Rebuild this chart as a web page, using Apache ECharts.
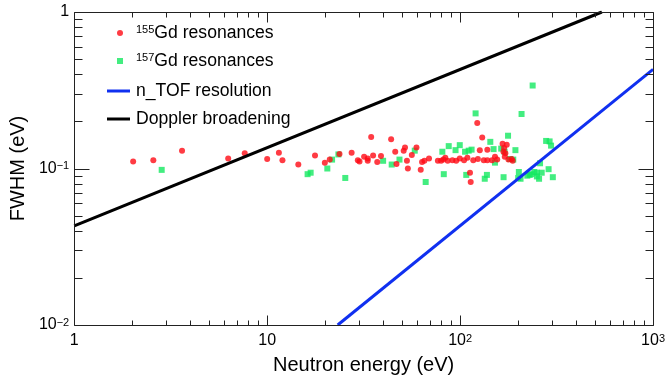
<!DOCTYPE html>
<html>
<head>
<meta charset="utf-8">
<script src="https://cdn.jsdelivr.net/npm/echarts@6/dist/echarts.min.js"></script>
<style>
  html, body { margin: 0; padding: 0; background: #fff; }
  #chart { width: 668px; height: 380px; }
</style>
</head>
<body>
<div id="chart"></div>
<script>
// 155Gd resonances: neutron energy (eV) and FWHM (eV)
const gd155E = [2.02, 2.57, 3.62, 6.28, 7.65, 10.0, 11.5, 12.0, 14.5, 17.7, 19.9, 21.1, 23.7, 27.4, 29.5, 30.1, 31.8, 33.2, 33.2, 34.6,
  35.4, 37.2, 38.9, 43.9, 46.1, 46.8, 51.0, 51.8, 53.0, 53.6, 56.2, 59.4, 62.5, 63.5, 65.3, 69.0, 76.7, 79.7, 81.9, 83.8,
  86.2, 91.2, 95.4, 99.6, 104.8, 109.1, 112.5, 113.5, 117.0, 122.7, 123.6, 126.5, 130.2, 132.6, 138.4, 138.4, 146.3, 151.6, 155.7, 166,
  169.1, 171.6, 174.5, 178, 185.1, 187.3, 167.7, 170.4];
const gd155W = [0.111, 0.113, 0.130, 0.116, 0.125, 0.115, 0.126, 0.113, 0.106, 0.121, 0.109, 0.114, 0.124, 0.126, 0.113, 0.111, 0.119, 0.116, 0.112, 0.159,
  0.121, 0.110, 0.120, 0.154, 0.128, 0.107, 0.130, 0.136, 0.112, 0.100, 0.122, 0.136, 0.098, 0.110, 0.112, 0.116, 0.112, 0.112, 0.114, 0.117,
  0.112, 0.113, 0.112, 0.116, 0.113, 0.117, 0.094, 0.082, 0.113, 0.195, 0.115, 0.131, 0.158, 0.113, 0.132, 0.113, 0.113, 0.119, 0.114, 0.144,
  0.135, 0.125, 0.142, 0.114, 0.115, 0.112, 0.128, 0.119];

// 157Gd resonances
const gd157E = [2.84, 16.2, 16.8, 20.5, 21.7, 23.4, 25.4, 39.9, 44.2, 48.5, 58.2, 66.3, 80.9, 82.3, 87.3, 94.7, 99.6, 106.1, 110.8, 114.7,
  107.6, 120.3, 134.2, 137.7, 143.4, 149.1, 151.6, 163.3, 168, 170, 177.2, 181.4, 188.6, 193.5, 200, 201.6, 205.7, 208.2, 223, 229.5,
  234.1, 242.5, 250, 250, 256.6, 264.8, 237.7, 259.6, 279.2, 291, 296.1, 287.5, 302.4];
const gd157W = [0.098, 0.092, 0.094, 0.100, 0.114, 0.123, 0.087, 0.112, 0.106, 0.114, 0.130, 0.082, 0.128, 0.092, 0.139, 0.131, 0.141, 0.128, 0.130, 0.132,
  0.091, 0.225, 0.086, 0.091, 0.148, 0.133, 0.109, 0.134, 0.088, 0.128, 0.162, 0.115, 0.114, 0.131, 0.087, 0.095, 0.086, 0.223, 0.090, 0.091,
  0.092, 0.095, 0.094, 0.089, 0.086, 0.094, 0.339, 0.108, 0.150, 0.149, 0.140, 0.099, 0.088];

// n_TOF resolution and Doppler broadening (straight lines in log-log)
const tofE = [23.2, 1000];
const tofW = [0.01, 0.43];
const dopplerE = [1, 543];
const dopplerW = [0.043, 1.0];

// Decade tick labels: value -> [base, exponent]
const xTickValues = [1, 10, 100, 1000];
const xTickLabels = [['1', ''], ['10', ''], ['10', '2'], ['10', '3']];
const yTickValues = [0.01, 0.1, 1];
const yTickLabels = [['10', '\u22122'], ['10', '\u22121'], ['1', '']];

// Minor ticks at 2..9 within each decade
function decadeSubTicks(lo, hi) {
  const out = [];
  for (let d = lo; d < hi * 0.999; d *= 10) {
    for (let k = 2; k <= 9; k++) out.push(+(d * k).toPrecision(6));
  }
  return out;
}
const xMinorValues = decadeSubTicks(1, 1000);
const yMinorValues = decadeSubTicks(0.01, 1);

const names = {
  gd155: '155Gd resonances',
  gd157: '157Gd resonances',
  tof: 'n_TOF resolution',
  doppler: 'Doppler broadening'
};

const zip = (a, b) => a.map((v, i) => [v, b[i]]);

const FONT = '"Liberation Sans", Arial, Helvetica, sans-serif';
const AXIS_COLOR = '#222';

const tickRich = {
  b: { fontSize: 16, fontFamily: FONT, color: '#000' },
  s: { fontSize: 11, fontFamily: FONT, color: '#000', verticalAlign: 'top' }
};
function labelFor(values, labels) {
  return function (v) {
    let idx = 0, best = Infinity;
    values.forEach((t, i) => {
      const d = Math.abs(Math.log10(t) - Math.log10(v));
      if (d < best) { best = d; idx = i; }
    });
    if (best > 0.01) return '';
    const l = labels[idx];
    return l[1] ? '{b|' + l[0] + '}{s|' + l[1] + '}' : '{b|' + l[0] + '}';
  };
}

function logAxis(kind, opts) {
  const isX = kind === 'x';
  return {
    type: 'log',
    min: isX ? 1 : 0.01,
    max: isX ? 1000 : 1,
    splitLine: { show: false },
    axisLine: { show: false },
    axisTick: { show: false },
    minorTick: { show: false },
    axisLabel: {
      formatter: labelFor(opts.values, opts.labels),
      rich: tickRich,
      margin: opts.margin
    },
    name: opts.name,
    nameLocation: 'middle',
    nameGap: opts.nameGap,
    nameTextStyle: { fontSize: 20, fontFamily: FONT, color: '#000' }
  };
}

// Frame with inward major/minor ticks on all four sides, placed via the axis scales
function renderFrame(params, api) {
  const cs = params.coordSys;
  const left = Math.round(cs.x) + 0.5;
  const top = Math.round(cs.y) + 0.5;
  const right = Math.round(cs.x + cs.width) + 0.5;
  const bottom = Math.round(cs.y + cs.height) + 0.5;
  const children = [];
  const seg = (x1, y1, x2, y2) => children.push({
    type: 'line', shape: { x1: x1, y1: y1, x2: x2, y2: y2 },
    style: { stroke: AXIS_COLOR, lineWidth: 1 }
  });
  const px = v => Math.round(api.coord([v, 0.1])[0]) + 0.5;
  const py = v => Math.round(api.coord([10, v])[1]) + 0.5;
  xTickValues.forEach(v => { const x = px(v); seg(x, bottom, x, bottom - 10); seg(x, top, x, top + 10); });
  xMinorValues.forEach(v => { const x = px(v); seg(x, bottom, x, bottom - 5); seg(x, top, x, top + 5); });
  yTickValues.forEach(v => { const y = py(v); seg(left, y, left + 15, y); seg(right, y, right - 15, y); });
  yMinorValues.forEach(v => { const y = py(v); seg(left, y, left + 8, y); seg(right, y, right - 8, y); });
  children.push({
    type: 'rect',
    shape: { x: left, y: top, width: right - left, height: bottom - top },
    style: { fill: 'none', stroke: AXIS_COLOR, lineWidth: 1 }
  });
  return { type: 'group', children: children };
}

const legendRich = {
  s: { fontSize: 11, fontFamily: FONT, color: '#000', verticalAlign: 'top' },
  b: { fontSize: 17.6, fontFamily: FONT, color: '#000' }
};
function legendFormatter(name) {
  const m = name.match(/^(\d+)(.*)$/);
  if (m) return '{s|' + m[1] + '}{b|' + m[2] + '}';
  return '{b|' + name + '}';
}
function legendItem(name, icon, left, top, w, h, pad) {
  return {
    data: [{ name: name, icon: icon }],
    left: left, top: top,
    orient: 'vertical',
    padding: 0,
    itemWidth: w, itemHeight: h,
    selectedMode: false,
    formatter: legendFormatter,
    textStyle: { rich: legendRich, padding: [0, 0, 0, pad] }
  };
}

const option = {
  animation: false,
  backgroundColor: '#fff',
  grid: { left: 67, right: 13, top: 12, bottom: 48 },
  xAxis: logAxis('x', { values: xTickValues, labels: xTickLabels, margin: 8, name: 'Neutron energy (eV)', nameGap: 30 }),
  yAxis: logAxis('y', { values: yTickValues, labels: yTickLabels, margin: 5, name: 'FWHM (eV)', nameGap: 42 }),
  legend: [
    legendItem(names.gd155, 'circle', 117, 24, 6, 6, 8),
    legendItem(names.gd157, 'rect', 117, 52, 6, 6, 8),
    legendItem(names.tof, 'rect', 107, 82, 23, 3, 1),
    legendItem(names.doppler, 'rect', 107, 110, 23, 3, 1)
  ],
  series: [
    {
      type: 'custom', silent: true, z: 10,
      renderItem: renderFrame,
      data: [[10, 0.1]]
    },
    {
      name: names.gd157, type: 'scatter', symbol: 'rect', symbolSize: 6,
      itemStyle: { color: '#14e860' },
      data: zip(gd157E, gd157W)
    },
    {
      name: names.gd155, type: 'scatter', symbol: 'circle', symbolSize: 6,
      itemStyle: { color: '#ff0a14' },
      data: zip(gd155E, gd155W)
    },
    {
      name: names.tof, type: 'line', symbol: 'none', showSymbol: false,
      lineStyle: { color: '#1030f0', width: 3 },
      itemStyle: { color: '#1030f0' },
      data: zip(tofE, tofW)
    },
    {
      name: names.doppler, type: 'line', symbol: 'none', showSymbol: false,
      lineStyle: { color: '#000', width: 3 },
      itemStyle: { color: '#000' },
      data: zip(dopplerE, dopplerW)
    }
  ]
};

const chart = echarts.init(document.getElementById('chart'));
chart.setOption(option);
</script>
</body>
</html>
